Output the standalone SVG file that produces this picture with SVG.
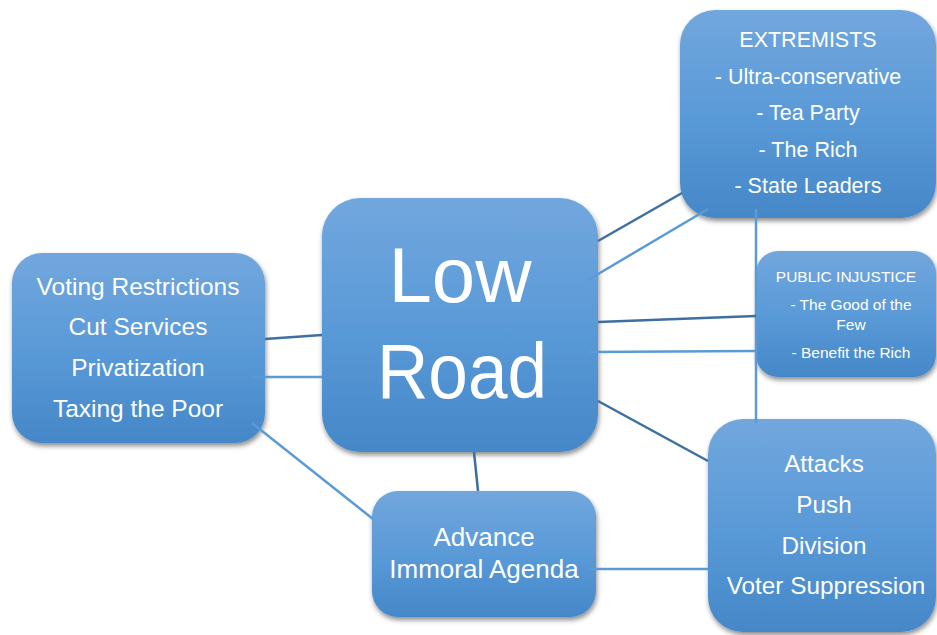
<svg xmlns="http://www.w3.org/2000/svg" width="937" height="635" viewBox="0 0 937 635">
<defs>
<linearGradient id="g" x1="0" y1="0" x2="0" y2="1">
<stop offset="0" stop-color="#72a7dd"/>
<stop offset="0.5" stop-color="#5a9ad8"/>
<stop offset="1" stop-color="#4587c8"/>
</linearGradient>
<filter id="sh" x="-10%" y="-10%" width="125%" height="130%">
<feDropShadow dx="1" dy="3" stdDeviation="2.5" flood-color="#000" flood-opacity="0.45"/>
</filter>
</defs>
<style>
.box{fill:url(#g);filter:url(#sh);}
text{font-family:"Liberation Sans",Arial,sans-serif;fill:#fff;text-anchor:middle;}
.dk{stroke:#3d6f9f;stroke-width:2.5;fill:none;}
.lt{stroke:#5b9bd5;stroke-width:2.5;fill:none;}
</style>
<rect width="937" height="635" fill="#fff"/>
<g id="extremists">
<rect class="box" x="680" y="10" width="256" height="208" rx="35"/>
<text font-size="21.5"><tspan x="808" y="47">EXTREMISTS</tspan><tspan x="808" y="84">- Ultra-conservative</tspan><tspan x="808" y="120">- Tea Party</tspan><tspan x="808" y="157">- The Rich</tspan><tspan x="808" y="193">- State Leaders</tspan></text>
</g>
<g id="public-injustice">
<rect class="box" x="756" y="251" width="180" height="126" rx="22"/>
<text font-size="15.5"><tspan x="846" y="282">PUBLIC INJUSTICE</tspan><tspan x="851" y="310">- The Good of the</tspan><tspan x="851" y="330">Few</tspan><tspan x="851" y="358">- Benefit the Rich</tspan></text>
</g>
<g id="left-list">
<rect class="box" x="12" y="253" width="253" height="190" rx="30"/>
<text font-size="24.5"><tspan x="138" y="295">Voting Restrictions</tspan><tspan x="138" y="335">Cut Services</tspan><tspan x="138" y="376">Privatization</tspan><tspan x="138" y="417">Taxing the Poor</tspan></text>
</g>
<g id="low-road">
<rect class="box" x="322" y="198" width="276" height="254" rx="38"/>
<text font-size="78"><tspan x="460" y="302">Low</tspan></text>
<text font-size="78" x="462" y="398" textLength="170" lengthAdjust="spacingAndGlyphs">Road</text>
</g>
<g id="advance">
<rect class="box" x="372" y="491" width="224" height="126" rx="26"/>
<text font-size="26"><tspan x="484" y="546">Advance</tspan><tspan x="484" y="578">Immoral Agenda</tspan></text>
</g>
<g id="attacks">
<rect class="box" x="708" y="419" width="228" height="213" rx="35"/>
<text font-size="24.3"><tspan x="824" y="472">Attacks</tspan><tspan x="824" y="513">Push</tspan><tspan x="824" y="554">Division</tspan><tspan x="826" y="594">Voter Suppression</tspan></text>
</g>
<g id="connectors">
<line class="dk" x1="598" y1="241" x2="682" y2="193"/>
<line class="lt" x1="588" y1="280" x2="708" y2="209"/>
<line class="lt" x1="756" y1="209" x2="756" y2="423"/>
<line class="dk" x1="598" y1="322" x2="756" y2="316"/>
<line class="lt" x1="588" y1="352" x2="756" y2="351"/>
<line class="dk" x1="598" y1="401" x2="708" y2="461"/>
<line class="dk" x1="265" y1="339" x2="322" y2="335"/>
<line class="lt" x1="252" y1="377" x2="322" y2="377"/>
<line class="lt" x1="252" y1="423" x2="373" y2="519"/>
<line class="dk" x1="474" y1="452" x2="478" y2="491"/>
<line class="lt" x1="588" y1="569" x2="708" y2="569"/>
</g>
</svg>
